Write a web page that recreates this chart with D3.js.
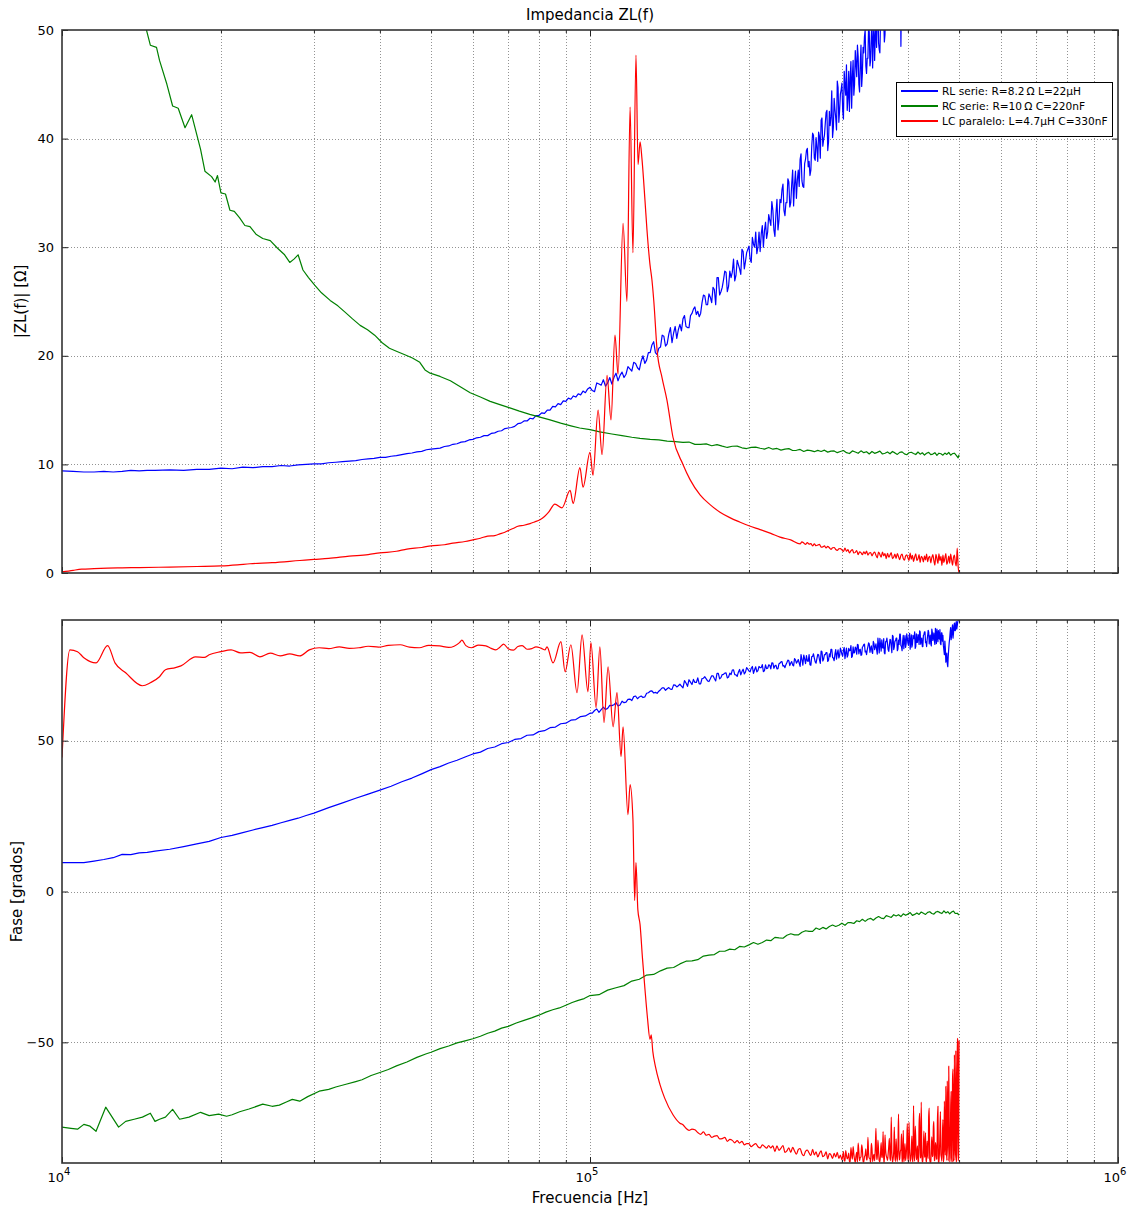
<!DOCTYPE html>
<html><head><meta charset="utf-8">
<script src="https://cdn.jsdelivr.net/npm/d3@7"></script>
<style>body{margin:0;background:#fff}svg{display:block}text{font-family:"DejaVu Sans",sans-serif}</style>
</head><body><svg id="c" width="1136" height="1209"></svg>
<script>
// ---------------- DATA (frequency in kHz, value) ----------------
const titleText = "Impedancia ZL(f)";
const xLabelText = "Frecuencia [Hz]";
const yTopLabelText = "|ZL(f)| [Ω]";
const yBotLabelText = "Fase [grados]";
const legendLabels = ["RL serie: R=8.2\u2009Ω  L=22μH", "RC serie: R=10\u2009Ω  C=220nF", "LC paralelo: L=4.7μH C=330nF"];
const seriesColors = ["#0000ff", "#008000", "#ff0000"];
const xMajorTicks = [1e4, 1e5, 1e6];
const xMajorExp = ["4", "5", "6"];
const xMinorTicks = [2e4,3e4,4e4,5e4,6e4,7e4,8e4,9e4,2e5,3e5,4e5,5e5,6e5,7e5,8e5,9e5];
const yTopTicks = [0, 10, 20, 30, 40, 50];
const yBotTicks = [-50, 0, 50];

// RL serie |Z|
const rlMagLow = [[10,9.4],[10.5,9.35],[11,9.3],[11.5,9.3],[12,9.35],[12.5,9.3],[13,9.35],[13.5,9.45],[14,9.4],[14.5,9.45],[15,9.45],[16,9.5],[17,9.45],[18,9.55],[19,9.55],[20,9.65],[21,9.6],[22,9.75],[23,9.7],[24,9.8],[25,9.8],[26,9.9],[27,9.85],[28,9.95],[29,10.0],[30,10.05],[31,10.05],[32,10.15],[33,10.2],[34,10.25],[35,10.3],[36,10.35],[37,10.45],[38,10.5],[39,10.55],[40,10.65],[41,10.65],[42,10.75],[43,10.8],[44,10.9],[45,11.0],[46,11.05],[47,11.15],[48,11.2],[49,11.35],[50,11.4],[51,11.45],[52,11.5],[53,11.65],[54,11.7],[55,11.85],[56,11.9],[57,12.05],[58,12.1],[59,12.25],[60,12.3],[61,12.45],[62,12.5],[63,12.65],[64,12.65],[65,12.85],[66,12.9],[67,13.05],[68,13.1],[69,13.3],[70,13.35],[71,13.4],[72,13.5],[73,13.75],[74,13.8],[75,14.0],[76,14.0],[77,14.25],[78,14.2],[79,14.5],[80,14.5],[81,14.75],[82,14.7],[83,15.0],[84,15.0],[85,15.35],[86,15.3],[87,15.6],[88,15.5],[89,15.85],[90,15.8],[91,16.1],[92,16.0],[93,16.3],[94,16.2],[95,16.5],[96,16.4],[97,16.75],[98,16.6],[99,16.95]];
const rlMagEven = [17.1,16.7,17.4,17.8,17.5,17.4,18.4,18.2,18.0,19.0,18.6,19.3,18.7,20.0,19.6,20.3,21.3,20.1,20.8,21.8,21.1,22.6,22.1,21.6,22.9,23.4,22.7,22.6,23.9,24.5,24.1,23.9,25.6,24.7,25.7,24.9,26.1,27.2,25.6,26.3,27.8,25.9,27.8,27.7,26.9,28.8,28.0,29.8,28.0,29.5,
30.1,28.6,30.3,31.4,30.0,29.6,32.0,31.5,30.8,33.0,32.0,33.4,31.0,34.4,32.5,34.1,35.8,32.9,34.1,36.0,34.1,37.1,35.8,34.5,37.1,38.1,36.1,35.5,38.1,39.1,37.9,37.1,40.5,38.2,40.1,37.9,40.2,41.7,39.3,40.3,42.4,38.9,42.5,42.0,40.1,43.7,41.9,45.3,41.5,44.1,
45.1,41.8,44.9,46.8,43.7,42.5,47.1,45.7,44.0,48.1,45.7,47.6,44.3,48.6,46.0,47.9,50.0,46.0,47.4,49.8,47.2,51.0,49.1,47.2,50.5,51.7,48.8,47.9,51.2,52.4,50.8,49.6,53.9,50.8,53.2,50.1,53.0,54.9,51.6,52.8,55.4,51.4,55.0,54.5,48.5,56.2,54.3,57.7,53.8,56.5,57.0]; // 100..400 kHz, even
const rlMagOdd = [16.8,17.5,17.3,17.2,18.0,18.0,17.7,18.5,18.3,18.8,19.4,18.9,19.5,19.3,20.3,21.0,20.3,20.7,21.9,20.9,22.0,21.2,22.7,22.4,22.3,23.7,22.6,23.7,24.3,23.8,23.6,24.9,25.5,24.7,25.4,26.3,24.7,27.2,25.9,27.0,27.7,26.4,27.2,28.9,27.4,28.4,27.5,29.6,28.7,29.8,
28.9,30.9,30.0,29.4,31.4,31.2,30.0,32.3,31.4,32.5,34.2,31.6,33.1,31.6,34.4,35.3,33.4,34.1,36.3,33.7,35.8,33.8,37.0,36.2,35.6,38.6,35.6,37.7,38.9,37.4,36.6,39.3,40.3,38.0,39.2,40.6,38.2,41.9,39.9,41.4,42.6,39.7,41.2,44.4,41.0,42.7,40.8,44.7,42.6,44.5,
42.6,46.2,44.0,42.6,46.2,45.5,42.8,47.2,45.0,46.9,48.6,45.0,46.9,44.8,48.4,49.4,46.7,47.4,50.3,46.7,49.4,46.5,50.6,49.4,48.4,52.3,48.2,50.8,52.3,50.1,48.9,52.3,53.5,50.4,51.8,53.5,50.2,55.0,52.1,54.0,55.0,52.1,53.6,56.7,53.4,55.1,53.1,57.0,54.8,56.8]; // 101..399 kHz, odd
const rlMagTail = [[420,59],[450,62],[480,65],[500,68]];

// RL serie phase
const rlPhaseLow = [[10,9.6],[10.5,9.6],[11,9.6],[11.5,10.1],[12,10.6],[12.5,11.2],[13,12.3],[13.5,12.2],[14,12.8],[14.5,13.0],[15,13.4],[16,14.0],[17,14.9],[18,15.8],[19,16.6],[20,17.9],[21,18.6],[22,19.5],[23,20.4],[24,21.2],[25,21.9],[26,22.8],[27,23.6],[28,24.3],[29,25.2],[30,26.0],[32,27.8],[34,29.4],[36,30.9],[38,32.3],[40,33.6],[42,34.9],[44,36.4],[46,37.6],[48,39.0],[50,40.4],[52,41.4],[54,42.6],[56,43.5],[58,44.6],[60,45.6],[62,46.2],[64,47.4],[66,47.9],[68,49.0],[70,49.4],[72,50.4],[74,50.7],[76,51.8],[78,51.9],[80,53.0],[82,53.3],[84,54.3],[86,54.5],[88,55.6],[90,55.8],[92,56.8],[94,57.0],[96,58.0],[98,58.2]];
const rlPhaseEven = [59.1,60.0,59.4,61.1,60.7,61.6,62.6,61.8,62.6,63.7,63.3,64.8,64.5,64.3,65.7,66.4,65.8,65.7,66.9,67.5,67.2,67.1,68.5,67.8,68.7,67.5,69.1,70.2,68.6,69.3,70.8,68.8,70.7,70.5,69.6,71.5,70.6,72.3,70.5,71.9,72.4,70.8,72.4,73.4,71.9,71.3,73.6,72.9,72.1,74.2,
73.1,74.0,72.3,74.5,73.2,74.2,75.2,73.2,73.9,75.1,73.8,75.7,74.8,73.8,75.5,76.1,74.7,74.2,75.9,76.5,75.7,75.1,77.2,75.7,76.9,74.6,76.9,78.4,75.5,76.4,78.5,75.0,77.9,77.4,75.7,78.6,76.9,79.7,76.4,78.5,79.2,76.3,78.8,80.3,77.6,76.5,80.2,78.9,77.4,80.7,
78.6,80.1,77.2,80.7,78.4,79.8,81.5,78.0,79.1,81.0,78.7,81.8,80.1,78.3,81.0,81.9,79.4,78.5,81.2,82.1,80.6,79.5,82.9,80.2,82.1,78.7,81.8,83.9,79.7,80.9,83.8,78.8,82.8,82.1,79.6,83.6,81.2,84.9,80.2,83.0,84.0,79.8,83.3,85.3,81.5,79.8,84.9,83.1,80.9,85.4,
82.4,84.5,80.3,85.1,81.8,83.8,86.1,81.2,82.6,85.2,81.9,86.1,83.7,81.2,84.9,86.1,82.5,81.2,84.8,86.0,83.8,82.2,87.0,83.2,85.7,81.9,85.0,87.0,82.8,84.0,86.8,81.8,85.7,84.9,80.0,83.0,76.0,79.0,74.5,80.5,84.0,87.5,84.8,88.4,85.6,89.0,86.5,89.5,88.0,89.8,92]; // 100..500 kHz, even
const rlPhaseOdd = [59.1,60.5,60.3,60.3,61.7,61.9,61.5,63.1,62.8,63.8,64.6,63.9,64.8,64.5,65.9,66.5,66.0,66.4,67.5,66.7,67.6,67.0,68.4,68.2,68.1,69.9,68.0,69.4,70.3,69.3,68.8,70.6,71.2,69.8,70.5,71.5,69.8,72.3,70.9,72.0,72.5,71.1,71.9,73.5,71.8,72.7,71.8,73.7,72.7,73.7,
72.8,74.6,73.5,72.8,74.6,74.2,72.9,75.1,74.0,75.0,75.8,74.0,75.0,73.9,75.7,76.2,74.9,75.2,76.7,74.9,76.2,74.8,76.8,76.2,75.7,78.5,75.0,77.1,78.2,76.3,75.2,77.9,78.8,76.1,77.2,78.5,75.6,79.5,77.0,78.5,79.2,76.7,77.8,80.3,77.4,78.7,77.0,80.1,78.2,79.8,
78.0,80.9,79.0,77.7,80.6,79.9,77.6,81.1,79.2,80.6,81.9,78.8,80.3,78.4,81.3,82.0,79.7,80.1,82.4,79.3,81.4,78.9,82.2,81.1,80.2,84.0,79.1,81.9,83.4,80.7,79.1,82.8,84.0,80.1,81.6,83.4,79.2,84.6,81.1,83.1,84.0,80.4,81.9,85.3,81.2,83.0,80.5,84.8,82.1,84.1,
81.6,85.6,82.9,81.0,84.9,83.9,80.6,85.4,82.6,84.7,86.4,82.0,84.0,81.2,85.2,86.1,82.8,83.4,86.6,82.1,85.0,81.4,85.9,84.3,83.0,87.2,82.2,85.1,86.5,83.7,82.1,85.7,83.0,81.5,78.5,80.5,77.0,75.5,78.0,82.5,86.0,83.5,87.0,84.0,88.0,86.5,88.8,87.0,89.3,90.5]; // 101..499 kHz, odd

// RC serie |Z|
const rcMagLow = [[10,72],[11,66],[12,61],[13,56],[14,52],[14.4,50.3],[14.7,48.6],[15.1,48.4],[15.3,47.2],[15.8,45.0],[16.2,43.0],[16.6,42.8],[17.1,41.0],[17.6,42.2],[18.3,39.0],[18.65,37.0],[19.2,36.5],[19.5,36.0],[19.7,36.6],[20.0,35.0],[20.4,34.9],[20.8,33.4],[21.2,33.3],[21.7,32.7],[22.2,32.0],[22.7,31.9],[23.3,31.2],[24.0,30.8],[24.8,30.6],[25.6,29.9],[26.4,29.3],[27.0,28.6],[27.5,28.9],[28.0,29.3],[28.6,27.9],[29.3,27.2],[30.1,26.5],[31.0,25.8],[32.2,25.1],[33.3,24.6],[34.4,24.0],[35.5,23.4],[36.7,22.8],[37.9,22.4],[39.1,21.9],[40.4,21.2],[41.7,20.7],[43.1,20.4],[44.6,20.1],[46.1,19.8],[47.6,19.4],[48.7,18.7],[49.8,18.4],[52,18.1],[54.4,17.7],[57,17.1],[59.3,16.6],[62,16.2],[64.7,15.8],[67.5,15.5],[70.5,15.2],[73.5,14.9],[76.9,14.6],[80.4,14.35],[84,14.1],[88,13.8],[92,13.55],[95.6,13.35],[100,13.2],[104.4,13.0],[110,12.8],[115,12.65],[120,12.5],[124.4,12.4],[130,12.3],[135,12.25],[140,12.15],[145,12.1]];
const rcMagHi = [12.02,12.06,11.84,11.85,11.89,11.72,11.82,11.68,11.56,11.67,11.68,11.53,11.46,11.57,11.59,11.49,11.41,11.56,11.40,11.47,11.31,11.40,11.45,11.28,11.30,11.38,11.19,11.31,11.27,11.17,11.29,11.19,11.31,11.13,11.22,11.24,11.08,11.19,11.28,11.08,11.00,11.24,11.14,11.02,11.25,11.08,11.17,10.96,11.19,11.02,11.11,11.22,10.96,11.03,11.15,10.98,11.19,11.06,10.92,11.11,11.15,10.97,10.89,11.07,11.12,11.01,10.91,11.14,10.94,11.07,10.86,11.02,11.11,10.90,10.95,11.08,10.83,11.03,10.98,10.85,11.04,10.92,11.10,10.85,10.99,11.03,10.83,10.6]; // 150..498 kHz, step 4
const rcMagTail = [[500,10.9]];

// RC serie phase
const rcPhaseLow = [[10,-78.1],[10.4,-78.5],[10.7,-78.8],[11,-77.2],[11.3,-77.8],[11.6,-79.5],[12.1,-71.5],[12.8,-78.1],[13.2,-76.2],[13.7,-75.5],[14.2,-74.8],[14.7,-73.5],[15.0,-76.2],[15.3,-75.5],[15.7,-74.8],[16.2,-72.2],[16.7,-75.5],[17.4,-74.8],[18.3,-73.2],[19.0,-74.3],[19.8,-73.8],[20.5,-74.5],[21.0,-74.0],[21.7,-73.0],[22.6,-72.1],[24.0,-70.5],[25.0,-71.2],[25.8,-70.8],[26.6,-69.8],[27.3,-68.9],[28.2,-69.5],[29.2,-68.0],[30.7,-66.2],[32,-65.6],[33,-64.8],[34.5,-63.9],[36,-63.0],[37,-62.4],[38.5,-61.0],[40,-60.0],[41.5,-59.0],[43,-57.8],[45,-56.5],[47,-55.0],[49,-53.8],[50,-53.3],[52,-52.1],[54,-51.2],[56,-50.2],[58,-49.5],[60,-48.8],[62,-48.0],[64,-47.0],[66,-46.3],[68,-45.3],[70,-44.7],[72.5,-43.6],[75,-42.7],[77.5,-41.9],[80,-41.0],[82.5,-40.0],[85,-39.2],[87.5,-38.6],[90,-37.7],[92.5,-36.8],[95,-36.1],[97.5,-35.5]];
const rcPhaseHi = [-34.5,-34.2,-32.7,-31.9,-31.2,-29.7,-29.1,-27.7,-27.5,-26.3,-25.4,-25.2,-24.0,-23.1,-23.0,-22.6,-21.4,-21.1,-20.9,-19.8,-19.8,-19.1,-19.3,-18.2,-18.4,-17.7,-16.9,-17.5,-16.9,-16.1,-16.3,-15.2,-15.4,-15.5,-14.5,-14.0,-14.4,-14.4,-13.5,-13.0,-13.2,-13.2,-12.1,-12.6,-11.9,-12.4,-11.6,-11.1,-11.6,-11.2,-10.5,-11.2,-10.3,-10.3,-10.6,-9.7,-10.0,-9.2,-9.9,-9.2,-8.9,-9.5,-8.8,-8.3,-8.8,-9.0,-8.0,-8.3,-8.6,-7.7,-8.1,-7.7,-8.3,-7.4,-7.9,-7.5,-7.0,-7.9,-7.6,-7.1,-7.6,-6.8,-7.2,-7.6,-6.9,-6.7,-7.3,-7.5,-6.8,-6.6,-7.0,-7.3,-6.4,-7.1,-6.7,-7.4,-6.8,-6.5,-7.3,-7.2,-7.8]; // 100..500 kHz, step 4

// LC paralelo |Z|
const lcMagLow = [[10,0.1],[10.5,0.25],[10.9,0.35],[11.5,0.4],[12.2,0.45],[13,0.48],[14,0.5],[16,0.55],[18,0.6],[20,0.65],[21.5,0.75],[22.7,0.85],[25,0.95],[28.2,1.15],[30,1.25],[32,1.35],[35,1.55],[38,1.7],[40,1.85],[43,2.0],[45,2.2],[48,2.35],[50,2.5],[53,2.6],[55,2.75],[58,2.9],[60,3.05],[62,3.2],[64,3.4],[66,3.45],[67.5,3.6],[69,3.75],[70,3.9],[71.5,4.1],[73,4.3],[75,4.4],[77,4.55],[78.5,4.7],[80.4,4.9],[82,5.2],[83.5,5.6],[85.8,6.35],[88.5,6.0],[91.7,7.6],[92.9,6.4],[95.7,9.7],[97.0,7.9],[100,11.1],[101.3,9.0],[103.6,15.0],[105.4,10.9],[107.7,18.2],[109.6,14.1],[111.5,21.9],[113.0,18.3],[115.5,32.2],[117.5,25.0],[119.1,42.9],[120.6,29.5],[122.2,47.7],[123.3,37.6],[124.4,39.7],[125.4,38.2],[127.1,34.3],[128.2,31.6],[129.9,28.4],[131.0,27.0],[132.1,25.0],[134,20.5],[136.9,18.0],[139.9,15.9],[143.6,12.5],[150,10.0],[154.7,8.6],[161.6,7.2],[168.8,6.3],[176.3,5.6],[184,5.1],[192,4.7],[200,4.35],[210,4.0],[220,3.65],[229,3.3],[240,3.05]];
const lcMagHi = [2.68,2.87,2.76,2.64,2.81,2.65,2.71,2.50,2.68,2.51,2.57,2.64,2.38,2.41,2.49,2.31,2.46,2.32,2.18,2.32,2.35,2.17,2.09,2.23,2.25,
2.13,1.99,2.30,2.00,2.15,1.85,2.05,2.16,1.84,1.90,2.07,1.69,1.95,1.87,1.68,1.95,1.76,2.01,1.65,1.84,1.89,1.58,1.81,1.93,1.64,
1.40,1.93,1.71,1.46,1.93,1.58,1.78,1.32,1.82,1.45,1.65,1.88,1.33,1.47,1.73,1.35,1.79,1.51,1.23,1.61,1.73,1.33,1.18,1.56,1.67,
1.41,1.17,1.84,1.27,1.63,1.06,1.49,1.76,1.16,1.31,1.70,0.97,1.53,1.40,1.03,1.58,1.21,1.73,1.04,1.43,1.54,0.94,1.42,1.69,1.13,
0.73,1.72,1.33,0.88,1.76,1.15,1.54,0.70,1.64,0.97,1.36,1.79,0.80,1.07,1.56,0.90,1.73,1.22,0.72,1.44,1.65,0.93,0.66,2.3,0.6,0.0]; // 250..500 kHz, step 2

// LC paralelo phase
const lcPhaseLow = [[10,44.4],[10.35,80.1],[10.7,79.5],[11,77.5],[11.6,75.8],[12.2,81.5],[12.6,75.8],[13.2,72.5],[14.2,68.2],[14.7,69.2],[15.3,71.2],[15.7,73.5],[16.4,74.2],[16.8,74.8],[17.9,77.8],[18.6,77.6],[19.0,78.5],[20,79.5],[20.9,80.1],[21.8,79.1],[22.7,79.3],[23.7,77.8],[24.8,79.0],[25.9,78.1],[27.0,78.8],[28.2,78.1],[29.4,80.1],[30.7,80.8],[32,80.5],[33.5,81.1],[35,80.6],[36.5,80.8],[38,81.3],[39.8,81.0],[41.5,81.6],[43.7,81.8],[45.5,81.0],[47.5,80.8],[49.5,81.6],[51.9,81.4],[54,80.9],[56.6,82.5],[57.2,83.3],[58.2,81.5],[59.6,80.8],[61.5,81.7],[63.5,81.4],[65,80.6],[66.3,80.1],[67.5,81.0],[68.6,82.0],[70,80.5],[71.6,80.0],[73,81.2],[74.4,81.5],[76,80.3],[77.6,80.5],[79,81.1],[80.4,80.8],[81.3,80.4],[82.2,80.1],[82.9,81.1],[85.1,75.8],[88.1,82.8],[89.7,72.8],[92.0,81.8],[94.5,65.9],[96.6,85.1],[99.1,66.2],[100.4,82.5],[102.7,60.9],[104.4,81.1],[106.3,56],[108.2,74.5],[110.6,54.6],[112.5,65.9],[114.5,44.7],[115.5,54.6],[118.0,25.5],[119.1,35.4],[120.6,23.8],[121.5,-3],[122.2,9.6],[123.2,-6],[124.4,-11],[125.7,-22],[127.1,-32.5],[128.5,-42],[129.9,-49],[130.6,-47.5],[131.5,-53],[133,-58],[135.7,-64],[138.5,-68.5],[143.6,-74],[148,-76.8]];
const lcPhaseEven = [-77.3,-78.5,-79.2,-78.8,-79.0,-79.9,-80.5,-79.7,-80.8,-80.5,-81.5,-81.1,-80.9,-82.0,-81.9,-81.5,-82.8,-82.2,-82.5,-83.3,-82.6,-83.4,-82.8,-84.0,-83.6,
-83.6,-84.6,-84.0,-83.6,-84.6,-85.0,-84.0,-84.5,-85.1,-84.2,-85.0,-84.3,-86.2,-84.3,-85.8,-85.1,-84.2,-86.5,-86.0,-85.0,-86.5,-84.8,-86.0,-87.1,-85.6,
-85.2,-86.9,-87.6,-86.1,-85.7,-86.7,-87.5,-85.5,-87.3,-86.3,-88.0,-86.8,-86.0,-87.9,-87.5,-86.3,-88.6,-86.9,-87.3,-88.5,-86.8,-88.0,-86.5,-88.5,-87.4,
-88.9,-86.2,-89.4,-87.5,-88.1,-89.6,-84.9,-88.7,-87.0,-89.8,-86.5,-83.4,-89.2,-88.0,-85.6,-89.7,-87.4,-89.0,-81.5,-88.4,-89.9,-85.1,-87.9,-89.3,-78.5,
-88.8,-86.0,-89.6,-83.2,-88.2,-89.8,-80.7,-87.6,-89.1,-84.4,-88.5,-74.8,-89.7,-86.3,-88.0,-82.0,-89.5,-73.8,-88.6,-85.5,-89.9,-79.2,-87.8,-89.2,-83.7,
-88.4,-76.5,-89.6,-86.1,-88.9,-71.0,-89.4,-82.6,-87.7,-89.8,-77.3,-88.3,-69.8,-89.5,-84.8,-88.1,-79.9,-89.7,-86.4,-74.5,-88.9,-89.6,-81.3,-87.5,-76.2,
-89.2,-84.1,-88.6,-71.2,-89.9,-80.0,-87.2,-89.4,-75.6,-88.0,-83.4,-64.6,-89.1,-78.8,-57.9,-89.7,-72.5,-88.3,-62.0,-89.5,-54.1,-86.0,-89.8,-48.7,-89.3,-49.5]; // 150..500 kHz, even
const lcPhaseOdd = [-87.8,-89.1,-85.9,-88.6,-86.7,-89.5,-87.2,-84.6,-88.9,-87.6,-89.7,-86.3,-88.2,-84.0,-89.4,-87.9,-85.3,-89.0,-86.8,-88.5,
-83.5,-89.6,-87.1,-85.2,-88.8,-82.4,-89.3,-86.9,-88.0,-79.6,-89.8,-85.7,-88.3,-87.0,-81.8,-89.2,-86.4,-88.7,-78.1,-89.5,
-87.3,-84.9,-89.0,-86.2,-80.3,-88.4,-89.6,-83.6,-87.5,-76.9,-89.3,-85.0,-88.6,-81.1,-89.7,-86.7,-77.8,-88.9,-84.3,-89.4,
-73.5,-88.1,-86.0,-89.6,-79.4,-87.7,-89.2,-82.7,-88.5,-71.8,-89.8,-85.4,-87.9,-78.0,-89.1,-83.2,-88.7,-75.9,-89.5,-86.6,
-73.0,-88.2,-81.4,-89.7,-69.5,-87.4,-84.0,-62.8,-89.3,-76.1,-88.0,-66.3,-89.6,-58.9,-82.5,-89.1,-52.7,-87.0,-49.2,-88.0]; // 301..499 kHz, odd

// Build (frequency, value) series: explicit low-frequency pairs + uniformly swept samples (start, step)
function build(low, grids, tail) {
  let out = low.slice();
  grids.forEach(([start, step, vals]) => { vals.forEach((v, i) => out.push([start + i * step, v])); });
  out = out.concat(tail || []);
  return out.sort((a, b) => a[0] - b[0]);
}
const rlMag = build(rlMagLow, [[100, 2, rlMagEven], [101, 2, rlMagOdd]], rlMagTail);
const rlPhase = build(rlPhaseLow, [[100, 2, rlPhaseEven], [101, 2, rlPhaseOdd]]);
const rcMag = build(rcMagLow, [[150, 4, rcMagHi]], rcMagTail);
const rcPhase = build(rcPhaseLow, [[100, 4, rcPhaseHi]]);
const lcMag = build(lcMagLow, [[250, 2, lcMagHi]]);
const lcPhase = build(lcPhaseLow, [[150, 2, lcPhaseEven], [301, 2, lcPhaseOdd]]);

// ---------------- LAYOUT ----------------
const svg = d3.select("#c");
const L = 62, R = 1118, T1 = 30, B1 = 573, T2 = 620, B2 = 1163;
const x = d3.scaleLog().domain([1e4, 1e6]).range([L, R]);
const yTop = d3.scaleLinear().domain([0, 50]).range([B1, T1]);
const yBot = d3.scaleLinear().domain([-90, 90]).range([B2, T2]);
const fmtMinus = d => d < 0 ? "\u2212" + Math.abs(d) : String(d);

function panel(id, y, yTicks, top, bottom, series) {
  const g = svg.append("g");
  svg.append("defs").append("clipPath").attr("id", id).append("rect")
    .attr("x", L).attr("y", top).attr("width", R - L).attr("height", bottom - top);
  const grid = g.append("g").attr("stroke", "#777").attr("stroke-width", 0.8).attr("stroke-dasharray", "1,2");
  grid.selectAll(".vx").data(xMinorTicks.concat([1e5])).join("line")
    .attr("x1", d => Math.round(x(d)) + 0.5).attr("x2", d => Math.round(x(d)) + 0.5)
    .attr("y1", top).attr("y2", bottom);
  grid.selectAll(".hy").data(yTicks.filter(v => y(v) > top + 1 && y(v) < bottom - 1)).join("line")
    .attr("y1", d => Math.round(y(d)) + 0.5).attr("y2", d => Math.round(y(d)) + 0.5)
    .attr("x1", L).attr("x2", R);
  const lineLin = d3.line().x(d => x(d[0] * 1e3)).y(d => y(d[1]));
  const lineSmooth = d3.line().x(d => x(d[0] * 1e3)).y(d => y(d[1])).curve(d3.curveMonotoneX);
  const sg = g.append("g").attr("clip-path", "url(#" + id + ")");
  series.forEach((s, i) => {
    sg.append("path").datum(s).attr("d", i === 2 ? lineSmooth : lineLin).attr("fill", "none")
      .attr("stroke", seriesColors[i]).attr("stroke-width", 1.2).attr("stroke-linejoin", "round");
  });
  const axB = d3.axisBottom(x).tickValues(xMajorTicks).tickSize(-6).tickFormat("").tickSizeOuter(0);
  const axBm = d3.axisBottom(x).tickValues(xMinorTicks).tickSize(-3).tickFormat("").tickSizeOuter(0);
  const axT = d3.axisTop(x).tickValues(xMajorTicks).tickSize(-6).tickFormat("").tickSizeOuter(0);
  const axTm = d3.axisTop(x).tickValues(xMinorTicks).tickSize(-3).tickFormat("").tickSizeOuter(0);
  const axL = d3.axisLeft(y).tickValues(yTicks).tickSize(-6).tickPadding(8).tickFormat(fmtMinus).tickSizeOuter(0);
  const axR = d3.axisRight(y).tickValues(yTicks).tickSize(-6).tickFormat("").tickSizeOuter(0);
  [[axB, "translate(0," + bottom + ")"], [axBm, "translate(0," + bottom + ")"], [axT, "translate(0," + top + ")"], [axTm, "translate(0," + top + ")"],
   [axL, "translate(" + L + ",0)"], [axR, "translate(" + R + ",0)"]].forEach(([a, tr]) => {
    const ag = g.append("g").attr("transform", tr).call(a);
    ag.select(".domain").remove();
    ag.selectAll("line").attr("stroke", "#222").attr("stroke-width", 1);
    ag.selectAll("text").attr("font-size", 13).attr("font-family", "DejaVu Sans").attr("fill", "#000");
  });
  g.append("rect").attr("x", L).attr("y", top).attr("width", R - L).attr("height", bottom - top)
    .attr("fill", "none").attr("stroke", "#333").attr("stroke-width", 1.6);
}

panel("clipTop", yTop, yTopTicks, T1, B1, [rlMag, rcMag, lcMag]);
panel("clipBot", yBot, yBotTicks, T2, B2, [rlPhase, rcPhase, lcPhase]);

const xl = svg.append("g").attr("font-size", 13).attr("fill", "#000");
xMajorTicks.forEach((v, i) => {
  const t = xl.append("text").attr("x", x(v) - 3).attr("y", B2 + 19).attr("text-anchor", "middle");
  t.append("tspan").text("10");
  t.append("tspan").attr("dy", -7).attr("font-size", 10).text(xMajorExp[i]);
});

svg.append("text").attr("x", (L + R) / 2).attr("y", 20).attr("text-anchor", "middle").attr("font-size", 15).text(titleText);
svg.append("text").attr("x", (L + R) / 2).attr("y", 1203).attr("text-anchor", "middle").attr("font-size", 15).text(xLabelText);
svg.append("text").attr("transform", "translate(26," + (T1 + B1) / 2 + ") rotate(-90)").attr("text-anchor", "middle").attr("font-size", 15).text(yTopLabelText);
svg.append("text").attr("transform", "translate(22," + (T2 + B2) / 2 + ") rotate(-90)").attr("text-anchor", "middle").attr("font-size", 15).text(yBotLabelText);

const lg = svg.append("g").attr("transform", "translate(896,82)");
lg.append("rect").attr("x", 0.5).attr("y", 0.5).attr("width", 216).attr("height", 54).attr("fill", "#fff").attr("stroke", "#000").attr("stroke-width", 1);
legendLabels.forEach((lab, i) => {
  const yy = 9 + i * 15;
  lg.append("line").attr("x1", 5).attr("x2", 42).attr("y1", yy).attr("y2", yy).attr("stroke", seriesColors[i]).attr("stroke-width", 1.8);
  lg.append("text").attr("x", 46).attr("y", yy + 4).attr("font-size", 10.6).text(lab);
});
</script></body></html>
